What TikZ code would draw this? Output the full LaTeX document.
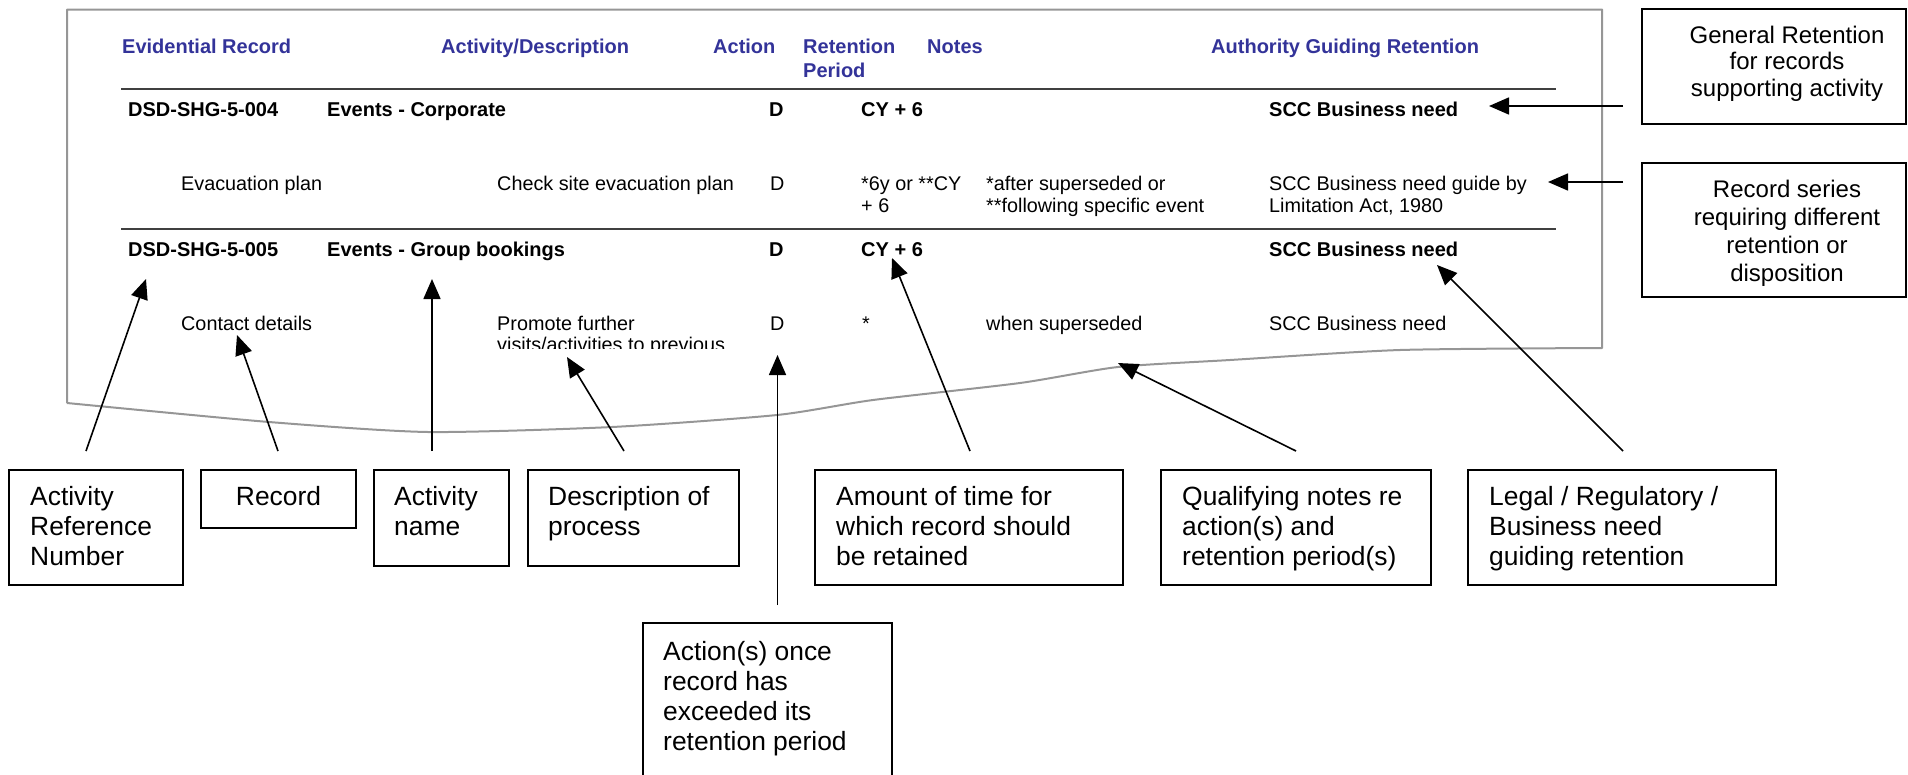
\documentclass[tikz,border=0pt]{standalone}
\usepackage{fontspec}
\setmainfont{Liberation Sans}
\usetikzlibrary{arrows.meta}
\definecolor{hdr}{RGB}{51,51,153}
\definecolor{framegray}{RGB}{150,150,150}
\definecolor{rulegray}{RGB}{64,64,64}
\begin{document}
\begin{tikzpicture}[x=1pt,y=-1pt,
  hd/.style={anchor=base west, inner sep=0pt, text=hdr, font=\fontsize{20}{24}\selectfont\bfseries},
  tb/.style={anchor=base west, inner sep=0pt, font=\fontsize{20}{24}\selectfont\bfseries},
  tr/.style={anchor=base west, inner sep=0pt, font=\fontsize{19.8}{22}\selectfont},
  cbox/.style={draw, line width=2.2pt, outer sep=0pt, inner sep=0pt, anchor=north west},
  ct/.style={anchor=base west, inner sep=0pt, font=\fontsize{26.4}{30}\selectfont},
  cc/.style={anchor=base, inner sep=0pt, font=\fontsize{24}{28}\selectfont},
  arr/.style={line width=1.6pt, -{Triangle[length=20pt,width=17pt]}},
  framestyle/.style={draw=framegray, line width=2pt, line join=round},
  rowrule/.style={draw=rulegray, line width=2.4pt}]
\useasboundingbox (0,0) rectangle (1908,774);
\clip (0,0) rectangle (1908,774);

% page frame with torn bottom edge
\path[framestyle] (67,403) -- (67,9.5) -- (1602,9.5) -- (1602,348)
  -- plot[smooth, tension=0.4] coordinates {(1602,348) (1400,350) (1230,360) (1118,367) (1020,383) (873,400) (777,415) (612,427) (428,432) (269,422) (67,403)};

% header
\node[hd] (h1) at (122,53) {Evidential Record};
\node[hd] (h2) at (441,53) {Activity/Description};
\node[hd] (h3) at (713,53) {Action};
\node[hd] (h4) at (803,53) {Retention};
\node[hd] (h4b) at (803,77) {Period};
\node[hd] (h5) at (927,53) {Notes};
\node[hd] (h6) at (1211,53) {Authority Guiding Retention};

\draw[rowrule] (121,89) -- (1556,89);
\draw[rowrule] (121,229) -- (1556,229);

% row 1
\node[tb] (r1a) at (128,116.5) {DSD-SHG-5-004};
\node[tb] (r1b) at (327,116.5) {Events - Corporate};
\node[tb] (r1c) at (769,116.5) {D};
\node[tb] (r1d) at (861,116.5) {CY + 6};
\node[tb] (r1e) at (1269,116.5) {SCC Business need};

% row 2
\node[tr] (r2a) at (181,190) {Evacuation plan};
\node[tr] (r2b) at (497,190) {Check site evacuation plan};
\node[tr] (r2c) at (770,190) {D};
\node[tr] (r2d) at (861,190) {*6y or **CY};
\node[tr] (r2d2) at (861,212) {+ 6};
\node[tr] (r2e) at (986,190) {*after superseded or};
\node[tr] (r2e2) at (986,212) {**following specific event};
\node[tr] (r2f) at (1269,190) {SCC Business need guide by};
\node[tr] (r2f2) at (1269,212) {Limitation Act, 1980};

% row 3
\node[tb] (r3a) at (128,256) {DSD-SHG-5-005};
\node[tb] (r3b) at (327,256) {Events - Group bookings};
\node[tb] (r3c) at (769,256) {D};
\node[tb] (r3d) at (861,256) {CY + 6};
\node[tb] (r3e) at (1269,256) {SCC Business need};

% row 4
\node[tr] (r4a) at (181,330) {Contact details};
\node[tr] (r4b) at (497,330) {Promote further};
\begin{scope}
  \clip (400,300) rectangle (800,348.3);
  \node[tr] (r4b2) at (497,351) {visits/activities to previous};
\end{scope}
\node[tr] (r4c) at (770,330) {D};
\node[tr] (r4d) at (862,330) {*};
\node[tr] (r4e) at (986,330) {when superseded};
\node[tr] (r4f) at (1269,330) {SCC Business need};

% callout boxes (bottom)
\node[cbox, minimum width=174pt, minimum height=115pt] (bArn) at (9,470) {};
\node[ct] at (30,505) {Activity};
\node[ct] at (30,535) {Reference};
\node[ct] at (30,565) {Number};

\node[cbox, minimum width=155pt, minimum height=58pt] (bRec) at (201,470) {};
\node[cc, font=\fontsize{26.4}{30}\selectfont] at (278.5,505) {Record};

\node[cbox, minimum width=135pt, minimum height=96pt] (bAct) at (374,470) {};
\node[ct] at (394,505) {Activity};
\node[ct] at (394,535) {name};

\node[cbox, minimum width=211pt, minimum height=96pt] (bDes) at (528,470) {};
\node[ct] at (548,505) {Description of};
\node[ct] at (548,535) {process};

\node[cbox, minimum width=308pt, minimum height=115pt] (bAmt) at (815,470) {};
\node[ct] at (836,505) {Amount of time for};
\node[ct] at (836,535) {which record should};
\node[ct] at (836,565) {be retained};

\node[cbox, minimum width=270pt, minimum height=115pt] (bQua) at (1161,470) {};
\node[ct] at (1182,505) {Qualifying notes re};
\node[ct] at (1182,535) {action(s) and};
\node[ct] at (1182,565) {retention period(s)};

\node[cbox, minimum width=308pt, minimum height=115pt] (bLeg) at (1468,470) {};
\node[ct] at (1489,505) {Legal / Regulatory /};
\node[ct] at (1489,535) {Business need};
\node[ct] at (1489,565) {guiding retention};

\node[cbox, minimum width=249pt, minimum height=180pt] (bAcn) at (643,623) {};
\node[ct] at (663,660) {Action(s) once};
\node[ct] at (663,690) {record has};
\node[ct] at (663,720) {exceeded its};
\node[ct] at (663,750) {retention period};

% callout boxes (right)
\node[cbox, minimum width=264pt, minimum height=115pt] (bGen) at (1642,9) {};
\node[cc] at (1787,43) {General Retention};
\node[cc] at (1787,69.5) {for records};
\node[cc] at (1787,96) {supporting activity};

\node[cbox, minimum width=264pt, minimum height=134pt] (bSer) at (1642,163) {};
\node[cc] at (1787,197) {Record series};
\node[cc] at (1787,225) {requiring different};
\node[cc] at (1787,253) {retention or};
\node[cc] at (1787,281) {disposition};

% connector ends
\coordinate (sArn) at (86,451);   \coordinate (tArn) at (146,279);
\coordinate (sRec) at (278,451);  \coordinate (tRec) at (237,335);
\coordinate (sAct) at (432,451);  \coordinate (tAct) at (432,279);
\coordinate (sDes) at (624,451);  \coordinate (tDes) at (567,357);
\coordinate (sAcn) at (777.5,605);\coordinate (tAcn) at (777.5,355);
\coordinate (sAmt) at (970,451);  \coordinate (tAmt) at (892,258);
\coordinate (sQua) at (1296,451); \coordinate (tQua) at (1118,363);
\coordinate (sLeg) at (1623,451); \coordinate (tLeg) at (1437,265);
\coordinate (sGen) at (1623,106); \coordinate (tGen) at (1489,106);
\coordinate (sSer) at (1623,182); \coordinate (tSer) at (1548,182);

\draw[arr] (sArn) -- (tArn);
\draw[arr] (sRec) -- (tRec);
\draw[arr] (sAct) -- (tAct);
\draw[arr] (sDes) -- (tDes);
\draw[arr] (sAcn) -- (tAcn);
\draw[arr] (sAmt) -- (tAmt);
\draw[arr] (sQua) -- (tQua);
\draw[arr] (sLeg) -- (tLeg);
\draw[arr] (sGen) -- (tGen);
\draw[arr] (sSer) -- (tSer);
\end{tikzpicture}
\end{document}
